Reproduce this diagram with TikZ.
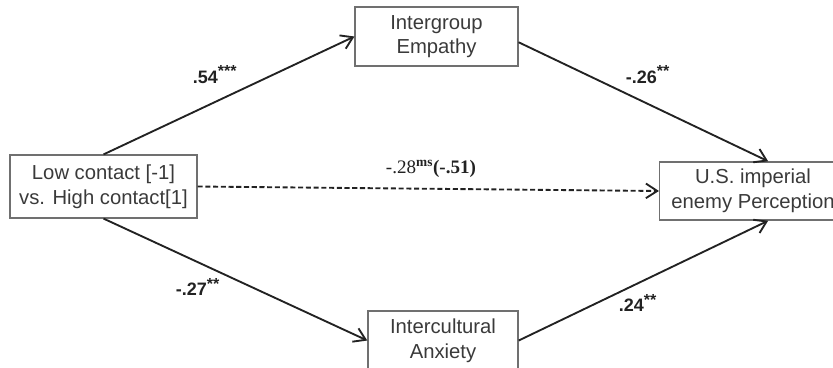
\documentclass[tikz,border=0pt]{standalone}
\usepackage{fontspec}
\setmainfont{Liberation Sans}
\newfontfamily\serifnum{Liberation Serif}
\usetikzlibrary{arrows.meta}
\definecolor{boxline}{HTML}{707070}
\definecolor{boxtext}{HTML}{3A3A3A}
\definecolor{pathline}{HTML}{222222}
\begin{document}
\begin{tikzpicture}
[x=0.75pt,y=-0.75pt,
 varbox/.style={draw=boxline,line width=1.1pt,text=boxtext,align=center,
   inner sep=0pt,font=\fontsize{15.2}{18.5}\selectfont},
 path/.style={draw=pathline,line width=1.4pt,
   -{Straight Barb[length=8.5pt,width=11pt,line width=1.4pt]}},
 coef/.style={text=pathline,font=\fontsize{13.5}{15}\selectfont\bfseries}]
\clip (0,0) rectangle (833,368);
\node[varbox,minimum width=140pt,minimum height=47pt] (lc) at (103.5,186.5)
  {Low contact [-1]\\vs. High contact[1]};
\node[varbox,minimum width=122pt,minimum height=44pt] (ie) at (436.5,36.5)
  {Intergroup\\Empathy};
\node[varbox,minimum width=112.5pt,minimum height=44pt] (ia) at (443,340.5)
  {Intercultural\\Anxiety};
\node[varbox,minimum width=140pt,minimum height=43.5pt] (us) at (753,191)
  {U.S. imperial\\enemy Perception};
% paths
\draw[path] (lc.north) -- (ie.west);
\draw[path] (ie.-4) -- (us.63);
\draw[path] (lc.south) -- (ia.west);
\draw[path] (ia.east) -- (us.-63);
\draw[path,dash pattern=on 3.8pt off 2pt] (lc.east) -- (us.west);
% coefficients
\node[coef] (c1) at (215,75) {.54\textsuperscript{\large***}};
\node[coef] (c2) at (648,75) {-.26\textsuperscript{\large**}};
\node[coef] (c3) at (198,287) {-.27\textsuperscript{\large**}};
\node[coef] (c4) at (638,303) {.24\textsuperscript{\large**}};
\node[text=pathline,font=\serifnum\fontsize{14.3}{16}\selectfont] (c5) at (431,169)
  {-.28\textsuperscript{\bfseries ms}\textbf{(-.51)}};
\end{tikzpicture}
\end{document}
